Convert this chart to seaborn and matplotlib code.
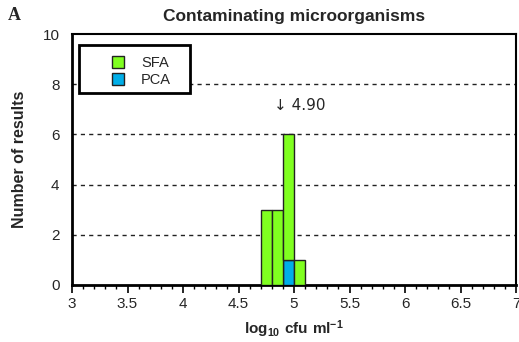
import matplotlib
matplotlib.use("Agg")
import matplotlib.pyplot as plt
import seaborn as sns
import pandas as pd
from matplotlib.patches import Patch, Rectangle
from matplotlib.legend_handler import HandlerPatch
from matplotlib.ticker import MultipleLocator

# Histogram bin centres (log10 cfu/ml) and counts per medium
bin_centers = [4.75, 4.85, 4.95, 5.05]
sfa_counts = [3, 3, 5, 1]
pca_counts = [0, 0, 1, 0]
media = ["SFA", "PCA"]
colors = {"SFA": "#80ff20", "PCA": "#00aee8"}
median_value = 4.90
title = "Contaminating microorganisms"

sns.set_theme(style="white")
plt.rcParams["font.family"] = ["Liberation Sans", "DejaVu Sans"]
plt.rcParams["mathtext.fontset"] = "custom"
plt.rcParams["mathtext.rm"] = "Liberation Sans"
plt.rcParams["mathtext.bf"] = "Liberation Sans:bold"

df = pd.DataFrame({
    "value": bin_centers * 2,
    "count": sfa_counts + pca_counts,
    "medium": ["SFA"] * len(bin_centers) + ["PCA"] * len(bin_centers),
})

fig = plt.figure(figsize=(5.19, 3.42), dpi=100)
ax = fig.add_axes([72 / 519, 1 - 285 / 342, (516 - 72) / 519, (285 - 34) / 342])

sns.histplot(
    data=df, x="value", weights="count", hue="medium", hue_order=media,
    multiple="stack", binwidth=0.1, binrange=(4.7, 5.1),
    palette=colors, alpha=1, edgecolor="#222222", linewidth=1.0,
    legend=False, ax=ax, zorder=3,
)

ax.set_xlim(3, 7)
ax.set_ylim(0, 10)
ax.xaxis.set_major_locator(MultipleLocator(0.5))
ax.xaxis.set_minor_locator(MultipleLocator(0.1))
ax.yaxis.set_major_locator(MultipleLocator(2))
ax.set_xticklabels([f"{v:g}" for v in ax.get_xticks()])
ax.tick_params(axis="x", which="major", direction="out", length=6, width=1.2,
               bottom=True, labelsize=11, pad=3, color="black")
ax.tick_params(axis="x", which="minor", direction="out", length=3, width=1,
               bottom=True, color="black")
ax.tick_params(axis="y", which="major", length=0, labelsize=11, pad=9)

for y in [2, 4, 6, 8]:
    ax.axhline(y, color="#222222", linewidth=1.0, linestyle=(0, (3, 3)), zorder=1)

for side in ["left", "bottom"]:
    ax.spines[side].set_linewidth(2.0)
    ax.spines[side].set_color("black")
for side in ["top", "right"]:
    ax.spines[side].set_linewidth(1.5)
    ax.spines[side].set_color("black")

ax.set_xlabel(r"$\mathbf{log_{10}\ cfu\ ml^{-1}}$", fontsize=11, labelpad=5)
ax.set_ylabel("Number of results", fontsize=11.5, fontweight="bold", labelpad=11)
ax.set_title(title, fontsize=12.5, fontweight="bold", pad=9)

ax.annotate(f"\u2193 {median_value:.2f}", xy=(5.05, 7.15),
            ha="center", va="center", fontsize=11, family=["DejaVu Sans"])


def square_at_right(legend, orig_handle, xdescent, ydescent, width, height, fontsize):
    side = 9.0
    return Rectangle((width - side - xdescent, -ydescent + (height - side) / 2),
                     side, side)


# Legend entries, with a separate box drawn around them
handles = [Patch(facecolor=colors[m], edgecolor="#222222", label=m) for m in media]
leg = ax.legend(handles=handles, loc="upper left", bbox_to_anchor=(0.0158, 0.956),
                frameon=False, fontsize=10.5, handlelength=2.4,
                handleheight=1.0, handletextpad=1.15, borderpad=0.7,
                labelspacing=0.2, borderaxespad=0,
                handler_map={Patch: HandlerPatch(patch_func=square_at_right)})
leg.set_zorder(6)
box_left, box_right = 7 / 444, 118 / 444
box_top, box_bottom = 240 / 251, 192 / 251
ax.add_patch(Rectangle((box_left, box_bottom), box_right - box_left,
                       box_top - box_bottom, transform=ax.transAxes,
                       facecolor="white", edgecolor="black", linewidth=2.0,
                       zorder=5))

fig.text(8 / 519, 1 - 15 / 342, "A", fontsize=13, fontweight="bold",
         family=["Liberation Serif"], ha="left", va="center")

fig.savefig("out.png", dpi=100)
